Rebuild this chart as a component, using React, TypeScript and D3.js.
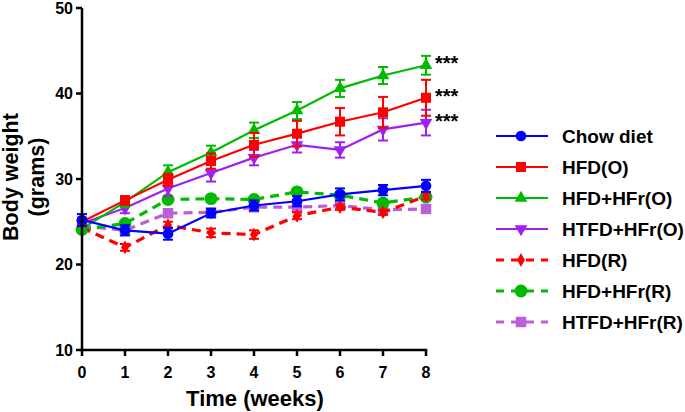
import React from 'react';
import * as d3 from 'd3';

const weeks = [0, 1, 2, 3, 4, 5, 6, 7, 8];
const yTicks = [10, 20, 30, 40, 50];

const chow = [25.2, 24.0, 23.6, 26.0, 26.9, 27.4, 28.2, 28.7, 29.2];
const chowErr = [0.7, 0.6, 0.7, 0.5, 0.6, 0.6, 0.7, 0.6, 0.7];
const hfdO = [25.0, 27.5, 29.9, 32.1, 34.0, 35.3, 36.7, 37.8, 39.5];
const hfdOErr = [0.4, 0.5, 0.7, 0.9, 1.4, 1.5, 1.6, 1.8, 2.1];
const hfdHfrO = [24.2, 27.3, 30.8, 33.1, 35.7, 38.0, 40.6, 42.1, 43.3];
const hfdHfrOErr = [0.4, 0.6, 0.8, 0.8, 0.9, 1.0, 1.0, 1.0, 1.1];
const htfdHfrO = [24.8, 26.6, 28.9, 30.7, 32.5, 34.0, 33.4, 35.8, 36.6];
const htfdHfrOErr = [0.4, 0.6, 0.9, 1.0, 0.9, 0.9, 0.9, 1.3, 1.5];
const hfdR = [24.3, 22.0, 24.6, 23.7, 23.5, 25.7, 26.7, 26.1, 28.0];
const hfdRErr = [0.3, 0.4, 0.4, 0.5, 0.5, 0.4, 0.3, 0.3, 0.4];
const hfdHfrR = [24.1, 24.8, 27.6, 27.7, 27.6, 28.5, 28.1, 27.2, 27.9];
const hfdHfrRErr = [0.3, 0.3, 0.3, 0.3, 0.3, 0.3, 0.3, 0.3, 0.3];
const htfdHfrR = [24.5, 24.0, 26.0, 26.1, 26.7, 26.7, 26.9, 26.4, 26.5];
const htfdHfrRErr = [0.3, 0.3, 0.3, 0.3, 0.3, 0.3, 0.3, 0.3, 0.3];

const series = [
  { name: 'Chow diet', values: chow, err: chowErr, color: '#0000ff', dashed: false, symbol: d3.symbolCircle, size: 90, rotate: 0 },
  { name: 'HFD(O)', values: hfdO, err: hfdOErr, color: '#ff0000', dashed: false, symbol: d3.symbolSquare, size: 100, rotate: 0 },
  { name: 'HFD+HFr(O)', values: hfdHfrO, err: hfdHfrOErr, color: '#00bb00', dashed: false, symbol: d3.symbolTriangle, size: 70, rotate: 0 },
  { name: 'HTFD+HFr(O)', values: htfdHfrO, err: htfdHfrOErr, color: '#a020f0', dashed: false, symbol: d3.symbolTriangle, size: 70, rotate: 180 },
  { name: 'HFD(R)', values: hfdR, err: hfdRErr, color: '#ff0000', dashed: true, symbol: d3.symbolDiamond, size: 55, rotate: 0 },
  { name: 'HFD+HFr(R)', values: hfdHfrR, err: hfdHfrRErr, color: '#00bb00', dashed: true, symbol: d3.symbolCircle, size: 130, rotate: 0 },
  { name: 'HTFD+HFr(R)', values: htfdHfrR, err: htfdHfrRErr, color: '#bb5fd8', dashed: true, symbol: d3.symbolSquare, size: 110, rotate: 0 },
];

const stars = [
  { label: '***', value: hfdHfrO[8] },
  { label: '***', value: hfdO[8] },
  { label: '***', value: htfdHfrO[8] },
];

const font = '"Liberation Sans", Arial, sans-serif';

const App = () => {
  const x = d3.scaleLinear().domain([0, 8]).range([82, 426]);
  const y = d3.scaleLinear().domain([10, 50]).range([350, 8]);
  const line = d3.line<number>().x((d, i) => x(weeks[i])).y(d => y(d));

  // draw dashed first, chow on top
  const drawOrder = [6, 5, 4, 3, 2, 1, 0];

  return (
    <svg width={685} height={412} style={{ position: 'absolute', left: 0, top: 0, background: '#fff' }}>
      {drawOrder.map(si => {
        const s = series[si];
        return (
          <g key={s.name}>
            <path d={line(s.values) || ''} fill="none" stroke={s.color}
              strokeWidth={s.dashed ? 3.2 : 2.2} strokeDasharray={s.dashed ? '9,6' : undefined} />
            {s.values.map((v, i) => {
              const cx = x(weeks[i]);
              const y1 = y(v + s.err[i]);
              const y2 = y(v - s.err[i]);
              return (
                <g key={i} stroke={s.color} strokeWidth={2}>
                  <line x1={cx} x2={cx} y1={y1} y2={y2} />
                  <line x1={cx - 5} x2={cx + 5} y1={y1} y2={y1} />
                  <line x1={cx - 5} x2={cx + 5} y1={y2} y2={y2} />
                </g>
              );
            })}
            {s.values.map((v, i) => (
              <path key={'m' + i} d={d3.symbol(s.symbol, s.size)() || ''} fill={s.color}
                transform={`translate(${x(weeks[i])},${y(v)}) rotate(${s.rotate})`} />
            ))}
          </g>
        );
      })}

      {/* axes */}
      <g stroke="#000" strokeWidth={2.5} fill="none">
        <line x1={82} x2={82} y1={y(50)} y2={y(10) + 1.25} />
        <line x1={82 - 1.25} x2={x(8) + 1.25} y1={y(10)} y2={y(10)} />
        {yTicks.map(t => (
          <line key={t} x1={76} x2={82} y1={y(t)} y2={y(t)} />
        ))}
        {weeks.map(w => (
          <line key={w} x1={x(w)} x2={x(w)} y1={y(10)} y2={y(10) + 6} />
        ))}
      </g>
      <g fontFamily={font} fontWeight="bold" fontSize={16} fill="#000">
        {yTicks.map(t => (
          <text key={t} x={73} y={y(t)} dy="0.36em" textAnchor="end">{t}</text>
        ))}
        {weeks.map(w => (
          <text key={w} x={x(w)} y={378} textAnchor="middle">{w}</text>
        ))}
      </g>
      <text x={255} y={406} textAnchor="middle" fontFamily={font} fontWeight="bold" fontSize={22}>Time (weeks)</text>
      <g transform="translate(0,177) rotate(-90)" fontFamily={font} fontWeight="bold" fontSize={21.5} textAnchor="middle">
        <text x={0} y={18}>Body weight</text>
        <text x={0} y={44}>(grams)</text>
      </g>

      {stars.map((st, i) => (
        <text key={i} x={435} y={y(st.value) + 5} fontFamily={font} fontWeight="bold" fontSize={20}>{st.label}</text>
      ))}

      {/* legend */}
      {series.map((s, i) => {
        const ly = 136 + i * 31;
        return (
          <g key={s.name}>
            <line x1={496} x2={548} y1={ly} y2={ly} stroke={s.color}
              strokeWidth={s.dashed ? 3.2 : 2.2} strokeDasharray={s.dashed ? '8,7' : undefined} />
            <path d={d3.symbol(s.symbol, s.size)() || ''} fill={s.color}
              transform={`translate(521,${ly}) rotate(${s.rotate})`} />
            <text x={562} y={ly} dy="0.36em" fontFamily={font} fontWeight="bold" fontSize={19}>{s.name}</text>
          </g>
        );
      })}
    </svg>
  );
};

export default App;
